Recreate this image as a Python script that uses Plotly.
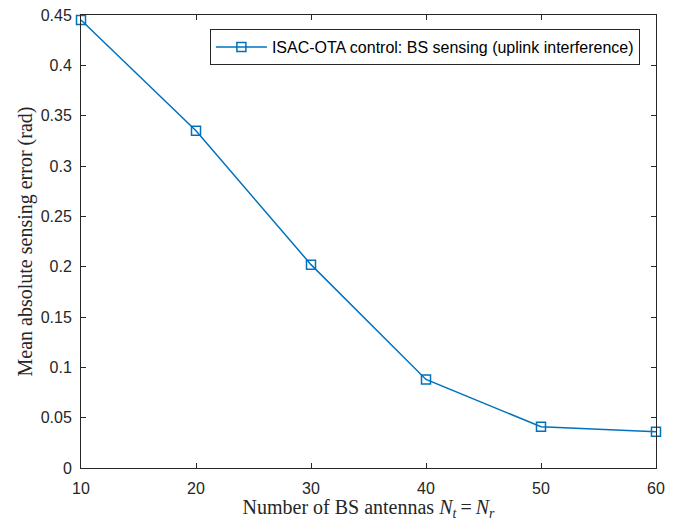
import plotly.graph_objects as go

antennas = [10, 20, 30, 40, 50, 60]
error_rad = [0.445, 0.335, 0.202, 0.088, 0.041, 0.036]
series_name = "ISAC-OTA control: BS sensing (uplink interference)"
x_ticks = [10, 20, 30, 40, 50, 60]
y_ticks = [0, 0.05, 0.1, 0.15, 0.2, 0.25, 0.3, 0.35, 0.4, 0.45]
y_tick_text = ["0", "0.05", "0.1", "0.15", "0.2", "0.25", "0.3", "0.35", "0.4", "0.45"]

blue = "#0072BD"
axc = "#262626"

fig = go.Figure()
fig.add_trace(go.Scatter(
    x=antennas, y=error_rad, mode="lines+markers", name=series_name,
    line=dict(color=blue, width=1.5),
    marker=dict(symbol="square-open", size=9, color=blue, line=dict(width=1.5, color=blue)),
    cliponaxis=False,
))

axis_common = dict(
    showgrid=False, zeroline=False, showline=True, linecolor=axc, linewidth=1,
    mirror="ticks", ticks="inside", ticklen=5, tickcolor=axc, tickwidth=1,
    tickfont=dict(family="Liberation Sans, Arial", size=16, color=axc),
    automargin=False,
)

fig.update_layout(
    width=677, height=521,
    margin=dict(l=81, r=21, t=15, b=53),
    paper_bgcolor="white", plot_bgcolor="white",
    xaxis=dict(range=[10, 60], tickvals=x_ticks, ticklabelstandoff=6,
               title=dict(text="Number of BS antennas <i>N</i><sub><i>t</i></sub>\u2009=\u2009<i>N</i><sub><i>r</i></sub>",
                          font=dict(family="Liberation Serif, Times New Roman", size=20, color=axc),
                          standoff=5),
               **axis_common),
    yaxis=dict(range=[0, 0.45], tickvals=y_ticks, ticktext=y_tick_text, ticklabelstandoff=5,
               title=dict(text="Mean absolute sensing error (rad)",
                          font=dict(family="Liberation Serif, Times New Roman", size=20, color=axc),
                          standoff=2),
               **axis_common),
    legend=dict(x=0.972, y=0.969, xanchor="right", yanchor="top",
                bgcolor="white", bordercolor=axc, borderwidth=1,
                font=dict(family="Liberation Sans, Arial", size=16, color="black"),
                itemwidth=51, tracegroupgap=0),
    showlegend=True,
)

fig.write_html("out.html")
